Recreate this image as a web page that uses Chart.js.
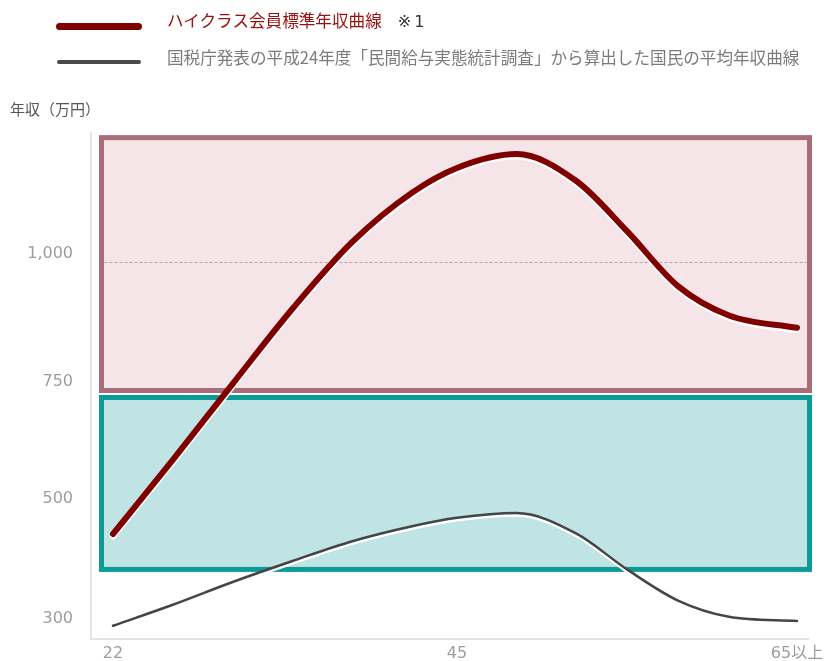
<!DOCTYPE html>
<html lang="ja">
<head>
<meta charset="utf-8">
<title>年収曲線</title>
<script src="https://cdn.jsdelivr.net/npm/chart.js@4.4.1/dist/chart.umd.min.js"></script>
<style>
  html, body { margin: 0; padding: 0; background: #fff; }
  #wrap { position: relative; width: 827px; height: 661px; overflow: hidden;
          font-family: "Noto Sans CJK JP", "Noto Sans", sans-serif; }
  #chart { position: absolute; left: 0; top: 0; }
  .key { position: absolute; border-radius: 4px; }
  .txt { position: absolute; white-space: nowrap; line-height: 1; }
</style>
</head>
<body>
<div id="wrap">
  <canvas id="chart" width="827" height="661"></canvas>
  <div class="key" style="left:56px;top:22.5px;width:86px;height:7px;background:#800000;"></div>
  <div class="txt" style="left:167px;top:11.5px;font-size:16.6px;color:#990f0f;">ハイクラス会員標準年収曲線<span style="color:#333;margin-left:16px;font-family:'DejaVu Sans','Noto Sans CJK JP',sans-serif;font-size:16px;">※<span style="margin-left:3px;">1</span></span></div>
  <div class="key" style="left:57px;top:59.5px;width:84px;height:4px;background:#4a4a4a;border-radius:2px;"></div>
  <div class="txt" style="left:167px;top:49px;font-size:16.6px;color:#7b7b7b;">国税庁発表の平成24年度「民間給与実態統計調査」から算出した国民の平均年収曲線</div>
  <div class="txt" style="left:10px;top:101px;font-size:15px;color:#555;">年収（万円）</div>
</div>
<script>
// Age (years) and annual income (万円) for each curve
const ages            = [22, 26, 30, 34, 38, 42, 45, 48.5, 52, 55, 58, 61, 65];
const highClassIncome = [455, 601, 763, 909, 1039, 1135, 1183, 1210, 1158, 1060, 953, 896, 872];
const nationalAverage = [302, 337, 375, 410, 443, 468, 482, 490, 456, 396, 344, 317, 310];

// Axis ticks
const xTickValues = [22, 45, 65];
const xTickLabels = ['22', '45', '65以上'];
const yTickValues = [300, 500, 750, 1000];
const yTickLabels = ['300', '500', '750', '1,000'];

// Income bands (万円) and the 1,000万円 guide
const highClassBand = [750, 1242];
const averageBand   = [396, 735];
const guideLine     = 1000;

// A linear scale whose value→position mapping is piecewise, set by knots
class PiecewiseScale extends Chart.LinearScale {
  static id = 'piecewise';
  static defaults = { ticks: { callback: Chart.Ticks.formatters.numeric } };

  _toDecimal(v) {
    const kv = this.options.knotValues, kp = this.options.knotPositions;
    let i = 0;
    while (i < kv.length - 2 && v > kv[i + 1]) i++;
    return kp[i] + (v - kv[i]) * (kp[i + 1] - kp[i]) / (kv[i + 1] - kv[i]);
  }
  _fromDecimal(d) {
    const kv = this.options.knotValues, kp = this.options.knotPositions;
    let i = 0;
    while (i < kp.length - 2 && d > kp[i + 1]) i++;
    return kv[i] + (d - kp[i]) * (kv[i + 1] - kv[i]) / (kp[i + 1] - kp[i]);
  }
  getPixelForValue(value) {
    return value === null || value === undefined ? NaN : this.getPixelForDecimal(this._toDecimal(value));
  }
  getValueForPixel(pixel) {
    return this._fromDecimal(this.getDecimalForPixel(pixel));
  }
}
Chart.register(PiecewiseScale);

// Shaded income bands behind the curves
const bandsPlugin = {
  id: 'bands',
  beforeDatasetsDraw(chart) {
    const { ctx, chartArea, scales: { y } } = chart;
    const left = chartArea.left + 10.5, right = chartArea.right + 1.5;
    const drawBand = (band, fill, stroke) => {
      const top = y.getPixelForValue(band[1]);
      const bottom = y.getPixelForValue(band[0]);
      ctx.save();
      ctx.fillStyle = fill;
      ctx.fillRect(left, top, right - left, bottom - top);
      ctx.lineWidth = 5;
      ctx.strokeStyle = stroke;
      ctx.strokeRect(left, top, right - left, bottom - top);
      ctx.restore();
    };
    drawBand(highClassBand, '#f5e5e9', '#a96d7a');
    drawBand(averageBand, '#c0e3e3', '#0b9c97');

    const gy = Math.round(y.getPixelForValue(guideLine)) + 0.5;
    ctx.save();
    ctx.strokeStyle = '#cf97a4';
    ctx.lineWidth = 1;
    ctx.setLineDash([3, 2]);
    ctx.beginPath();
    ctx.moveTo(left + 3, gy);
    ctx.lineTo(right - 3, gy);
    ctx.stroke();
    ctx.restore();
  }
};

// White edge under each curve
const haloPlugin = {
  id: 'halo',
  beforeDatasetDraw(chart) {
    const ctx = chart.ctx;
    ctx.save();
    ctx.shadowColor = '#ffffff';
    ctx.shadowOffsetX = 0;
    ctx.shadowOffsetY = 2.5;
    ctx.shadowBlur = 0;
  },
  afterDatasetDraw(chart) {
    chart.ctx.restore();
  }
};

const tickFont = { family: '"DejaVu Sans", "Noto Sans CJK JP", sans-serif', size: 16 };

new Chart(document.getElementById('chart'), {
  type: 'line',
  data: {
    datasets: [
      {
        label: 'ハイクラス会員標準年収曲線',
        data: ages.map((a, i) => ({ x: a, y: highClassIncome[i] })),
        borderColor: '#800000',
        borderWidth: 6,
        borderCapStyle: 'round',
        borderJoinStyle: 'round',
        pointRadius: 0,
        cubicInterpolationMode: 'monotone',
        fill: false,
        clip: false
      },
      {
        label: '国民の平均年収曲線',
        data: ages.map((a, i) => ({ x: a, y: nationalAverage[i] })),
        borderColor: '#454545',
        borderWidth: 2.5,
        borderCapStyle: 'round',
        borderJoinStyle: 'round',
        pointRadius: 0,
        cubicInterpolationMode: 'monotone',
        fill: false,
        clip: false
      }
    ]
  },
  options: {
    responsive: false,
    animation: false,
    devicePixelRatio: 1,
    layout: { padding: { top: 133, right: 19, left: 0, bottom: 0 } },
    plugins: { legend: { display: false }, tooltip: { enabled: false } },
    scales: {
      x: {
        type: 'piecewise',
        knotValues: [20.53, 22, 45, 65, 65.65],
        knotPositions: [0, 0.03068, 0.51046, 0.98466, 1],
        min: 20.53,
        max: 65.65,
        afterBuildTicks: s => { s.ticks = xTickValues.map(v => ({ value: v })); },
        afterFit: s => { s.height = 22; s.paddingLeft = 0; s.paddingRight = 0; },
        grid: { display: false, drawTicks: false },
        border: { display: true, color: '#e4e4e4', width: 2 },
        ticks: {
          autoSkip: false,
          maxRotation: 0,
          padding: 5.5,
          color: '#9d9d9d',
          font: tickFont,
          callback: (v, i) => xTickLabels[i]
        }
      },
      y: {
        type: 'piecewise',
        position: 'left',
        knotValues: [280, 300, 500, 750, 1000, 1251],
        knotPositions: [0, 0.02372, 0.26087, 0.49111, 0.74506, 1],
        min: 280,
        max: 1251,
        afterBuildTicks: s => { s.ticks = yTickValues.map(v => ({ value: v })); },
        afterFit: s => { s.width = 91; s.paddingTop = 0; s.paddingBottom = 0; },
        grid: { display: false, drawTicks: false },
        border: { display: true, color: '#e4e4e4', width: 2 },
        ticks: {
          autoSkip: false,
          padding: 18,
          labelOffset: -8.5,
          color: '#9d9d9d',
          font: tickFont,
          callback: (v, i) => yTickLabels[i]
        }
      }
    }
  },
  plugins: [bandsPlugin, haloPlugin]
});
</script>
</body>
</html>
